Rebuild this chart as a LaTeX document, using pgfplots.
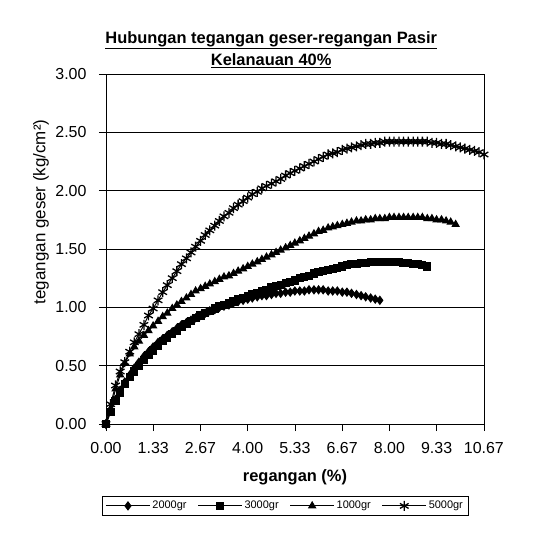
\documentclass[border=0pt]{standalone}
\usepackage{fontspec}
\setmainfont{Liberation Sans}
\usepackage{pgfplots}
\pgfplotsset{compat=1.18}
\begin{document}
\begin{tikzpicture}[x=1bp,y=1bp]
\useasboundingbox (-106,-111) rectangle (427,424);
\begin{axis}[
  at={(0,0)}, anchor=south west,
  scale only axis, width=378bp, height=350bp,
  xmin=0, xmax=10.67, ymin=0, ymax=3,
  xtick={0,1.333,2.667,4,5.333,6.667,8,9.333,10.667},
  xticklabels={0.00,1.33,2.67,4.00,5.33,6.67,8.00,9.33,10.67},
  minor x tick num=9,
  ytick={0,0.5,1,1.5,2,2.5,3},
  yticklabels={0.00,0.50,1.00,1.50,2.00,2.50,3.00},
  tick align=outside, tick pos=left,
  major tick length=7bp, minor tick length=4bp,
  every tick/.style={black, line width=0.7pt},
  ymajorgrids, grid style={black, line width=0.7pt},
  axis line style={black, line width=0.8pt},
  ticklabel style={font=\fontsize{16}{18}\selectfont},
  xticklabel style={yshift=-8bp},
  yticklabel style={xshift=-9bp},
  xlabel={\bfseries regangan (\%)},
  ylabel={tegangan geser (kg/cm²)},
  xlabel style={font=\fontsize{16.5}{18}\selectfont, at={(axis description cs:0.5,-0.153)}, anchor=center},
  ylabel style={font=\fontsize{17}{19}\selectfont, at={(axis description cs:-0.172,0.606)}, anchor=center},
  legend columns=4,
  legend style={at={(0.474,-0.234)}, anchor=center, draw=black, line width=0.7pt,
    font=\fontsize{11}{13}\selectfont, inner sep=3bp,
    /tikz/every even column/.append style={column sep=9bp}},
  legend image code/.code={\draw[mark repeat=2,mark phase=2] plot coordinates {(0bp,0bp) (22bp,0bp) (44bp,0bp)};},
  clip=false,
]
\addplot[black, line width=1pt, mark=diamond*, mark size=4bp] coordinates {
(0.00,0.00)(0.13,0.11)(0.27,0.21)(0.40,0.29)(0.53,0.36)(0.67,0.42)(0.80,0.48)(0.93,0.53)
(1.07,0.58)(1.20,0.62)(1.33,0.66)(1.47,0.70)(1.60,0.73)(1.73,0.76)(1.87,0.79)(2.00,0.82)
(2.13,0.85)(2.27,0.87)(2.40,0.89)(2.53,0.91)(2.67,0.93)(2.80,0.95)(2.93,0.97)(3.07,0.98)
(3.20,1.00)(3.33,1.01)(3.47,1.02)(3.60,1.04)(3.73,1.05)(3.87,1.06)(4.00,1.07)(4.13,1.08)
(4.27,1.09)(4.40,1.10)(4.53,1.10)(4.67,1.11)(4.80,1.12)(4.93,1.12)(5.07,1.13)(5.20,1.13)
(5.33,1.14)(5.47,1.14)(5.60,1.14)(5.73,1.15)(5.87,1.15)(6.00,1.15)(6.13,1.15)(6.27,1.14)
(6.40,1.14)(6.53,1.14)(6.67,1.13)(6.80,1.13)(6.93,1.12)(7.07,1.11)(7.20,1.10)(7.33,1.09)
(7.47,1.08)(7.60,1.07)(7.73,1.06)};
\addlegendentry{2000gr}
\addplot[black, line width=1pt, mark=square*, mark size=3.6bp] coordinates {
(0.00,0.00)(0.13,0.10)(0.27,0.20)(0.40,0.27)(0.53,0.34)(0.67,0.40)(0.80,0.45)(0.93,0.50)
(1.07,0.55)(1.20,0.59)(1.33,0.63)(1.47,0.67)(1.60,0.71)(1.73,0.74)(1.87,0.77)(2.00,0.80)
(2.13,0.83)(2.27,0.86)(2.40,0.88)(2.53,0.91)(2.67,0.93)(2.80,0.95)(2.93,0.97)(3.07,0.99)
(3.20,1.01)(3.33,1.02)(3.47,1.04)(3.60,1.05)(3.73,1.07)(3.87,1.08)(4.00,1.10)(4.13,1.11)
(4.27,1.12)(4.40,1.14)(4.53,1.15)(4.67,1.17)(4.80,1.18)(4.93,1.19)(5.07,1.21)(5.20,1.22)
(5.33,1.23)(5.47,1.25)(5.60,1.26)(5.73,1.27)(5.87,1.29)(6.00,1.30)(6.13,1.31)(6.27,1.32)
(6.40,1.33)(6.53,1.34)(6.67,1.35)(6.80,1.36)(6.93,1.37)(7.07,1.37)(7.20,1.38)(7.33,1.38)
(7.47,1.39)(7.60,1.39)(7.73,1.39)(7.87,1.39)(8.00,1.39)(8.13,1.39)(8.27,1.39)(8.40,1.38)
(8.53,1.38)(8.67,1.37)(8.80,1.37)(8.93,1.36)(9.07,1.35)};
\addlegendentry{3000gr}
\addplot[black, line width=1pt, mark=triangle*, mark size=4bp] coordinates {
(0.00,0.00)(0.13,0.13)(0.27,0.30)(0.40,0.42)(0.53,0.52)(0.67,0.60)(0.80,0.66)(0.93,0.71)
(1.07,0.76)(1.20,0.80)(1.33,0.84)(1.47,0.88)(1.60,0.92)(1.73,0.95)(1.87,0.99)(2.00,1.02)
(2.13,1.05)(2.27,1.08)(2.40,1.11)(2.53,1.14)(2.67,1.16)(2.80,1.18)(2.93,1.20)(3.07,1.22)
(3.20,1.24)(3.33,1.26)(3.47,1.27)(3.60,1.29)(3.73,1.31)(3.87,1.33)(4.00,1.35)(4.13,1.37)
(4.27,1.39)(4.40,1.41)(4.53,1.43)(4.67,1.45)(4.80,1.47)(4.93,1.49)(5.07,1.51)(5.20,1.53)
(5.33,1.55)(5.47,1.57)(5.60,1.59)(5.73,1.61)(5.87,1.63)(6.00,1.65)(6.13,1.66)(6.27,1.68)
(6.40,1.69)(6.53,1.70)(6.67,1.71)(6.80,1.72)(6.93,1.73)(7.07,1.74)(7.20,1.74)(7.33,1.75)
(7.47,1.75)(7.60,1.76)(7.73,1.76)(7.87,1.76)(8.00,1.77)(8.13,1.77)(8.27,1.77)(8.40,1.77)
(8.53,1.77)(8.67,1.77)(8.80,1.77)(8.93,1.77)(9.07,1.76)(9.20,1.76)(9.33,1.75)(9.47,1.75)
(9.60,1.74)(9.73,1.73)(9.87,1.71)};
\addlegendentry{1000gr}
\addplot[black, line width=1pt, mark=asterisk, mark size=5bp, mark options={line width=1.3pt}] coordinates {
(0.00,0.00)(0.13,0.17)(0.27,0.33)(0.40,0.45)(0.53,0.53)(0.67,0.62)(0.80,0.70)(0.93,0.77)
(1.07,0.85)(1.20,0.93)(1.33,0.99)(1.47,1.06)(1.60,1.13)(1.73,1.19)(1.87,1.25)(2.00,1.31)
(2.13,1.37)(2.27,1.42)(2.40,1.47)(2.53,1.52)(2.67,1.57)(2.80,1.62)(2.93,1.66)(3.07,1.70)
(3.20,1.74)(3.33,1.78)(3.47,1.81)(3.60,1.85)(3.73,1.88)(3.87,1.91)(4.00,1.94)(4.13,1.97)
(4.27,1.99)(4.40,2.02)(4.53,2.04)(4.67,2.06)(4.80,2.08)(4.93,2.10)(5.07,2.13)(5.20,2.15)
(5.33,2.17)(5.47,2.19)(5.60,2.21)(5.73,2.23)(5.87,2.25)(6.00,2.27)(6.13,2.29)(6.27,2.31)
(6.40,2.32)(6.53,2.33)(6.67,2.35)(6.80,2.36)(6.93,2.37)(7.07,2.38)(7.20,2.39)(7.33,2.40)
(7.47,2.40)(7.60,2.41)(7.73,2.41)(7.87,2.42)(8.00,2.42)(8.13,2.42)(8.27,2.42)(8.40,2.42)
(8.53,2.42)(8.67,2.42)(8.80,2.42)(8.93,2.42)(9.07,2.42)(9.20,2.41)(9.33,2.41)(9.47,2.40)
(9.60,2.40)(9.73,2.39)(9.87,2.38)(10.00,2.37)(10.13,2.36)(10.27,2.35)(10.40,2.34)(10.53,2.33)
(10.67,2.31)};
\addlegendentry{5000gr}
\node[align=center, font=\bfseries\fontsize{16.5}{22}\selectfont] at (axis description cs:0.437,1.069)
  {\underline{Hubungan tegangan geser-regangan Pasir}\\\underline{Kelanauan 40\%}};
\end{axis}
\end{tikzpicture}
\end{document}
